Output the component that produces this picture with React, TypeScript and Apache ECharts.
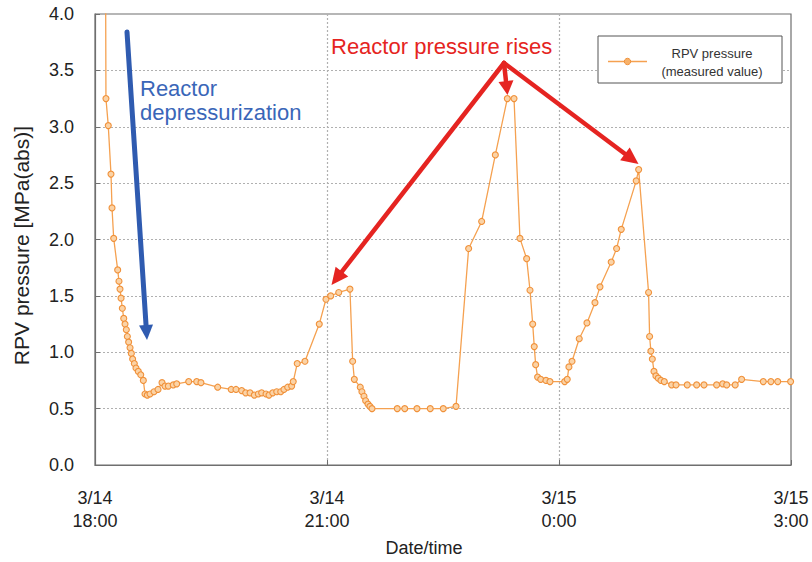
import React, { useEffect, useRef } from "react";
import * as echarts from "echarts";

// minutes after 3/14 18:00
const timeMinutes = [
  7.5, 8.5, 10.3, 12.4, 13.2, 14.5, 17.6, 18.6, 19.4, 20.2, 21.2, 22.3, 23.3, 24.3, 25.1, 26.1, 27.2, 28.2,
  29.2, 30.5, 31.8, 33.6, 35.5, 37.5, 38.8, 40.6, 42.7, 45.8, 48.9, 52.0, 54.3, 56.9, 60.7, 63.4, 72.7,
  78.9, 82.2, 95.2, 105.7, 109.4, 113.8, 116.9, 120.3, 123.6, 126.7, 129.3, 132.7, 135.0, 137.9, 141.0,
  144.1, 146.6, 149.5, 152.6, 153.8, 156.9, 162.9, 174.0, 179.2, 182.9, 189.1, 197.8, 199.9, 201.2,
  205.8, 207.1, 208.7, 210.0, 211.8, 213.3, 214.9, 234.5, 240.3, 249.8, 260.1, 270.2, 280.1, 289.9,
  300.0, 310.6, 319.9, 325.1, 329.7, 334.9, 337.5, 339.6, 340.8, 341.9, 343.4, 345.8, 349.9, 353.0,
  364.4, 366.4, 367.7, 370.1, 375.7, 381.7, 387.9, 391.8, 400.5, 404.7, 408.3, 419.9, 421.8, 429.5,
  430.3, 431.3, 432.4, 433.7, 435.2, 437.0, 439.1, 441.7, 447.4, 450.8, 459.5, 466.8, 472.5, 482.3,
  487.0, 490.1, 496.7, 501.7, 518.5, 524.4, 529.7, 539.7,
];
const rpvPressure = [
  7.0, 3.25, 3.01, 2.58, 2.28, 2.01, 1.73, 1.63, 1.56, 1.48, 1.39, 1.30, 1.25, 1.20, 1.14, 1.09, 1.04, 0.99,
  0.94, 0.90, 0.86, 0.83, 0.80, 0.75, 0.63, 0.62, 0.63, 0.65, 0.67, 0.73, 0.70, 0.70, 0.71, 0.72, 0.74,
  0.74, 0.73, 0.69, 0.67, 0.67, 0.66, 0.64, 0.64, 0.62, 0.63, 0.64, 0.63, 0.62, 0.64, 0.65,
  0.65, 0.67, 0.69, 0.70, 0.74, 0.90, 0.92, 1.25, 1.47, 1.50, 1.53, 1.56, 0.92, 0.76,
  0.69, 0.65, 0.61, 0.57, 0.54, 0.52, 0.50, 0.50, 0.50, 0.50, 0.50, 0.50, 0.52, 1.92,
  2.16, 2.75, 3.25, 3.25, 2.01, 1.83, 1.55, 1.25, 1.05, 0.89, 0.78, 0.76, 0.75, 0.74,
  0.74, 0.76, 0.87, 0.92, 1.12, 1.26, 1.44, 1.58, 1.80, 1.92, 2.09, 2.52, 2.62, 1.53,
  1.14, 1.01, 0.94, 0.83, 0.79, 0.77, 0.75, 0.74, 0.71, 0.71, 0.71, 0.71, 0.71, 0.71,
  0.72, 0.71, 0.71, 0.76, 0.74, 0.74, 0.74, 0.74,
];
const xTickLabels: Record<number, string> = {
  0: "3/14\n18:00",
  180: "3/14\n21:00",
  360: "3/15\n0:00",
  540: "3/15\n3:00",
};

const FONT = "'Liberation Sans', Arial, sans-serif";

function arrow(x1: number, y1: number, x2: number, y2: number, color: string, lw: number, hl: number, hw: number) {
  const dx = x2 - x1;
  const dy = y2 - y1;
  const len = Math.sqrt(dx * dx + dy * dy);
  const ux = dx / len;
  const uy = dy / len;
  const bx = x2 - ux * hl;
  const by = y2 - uy * hl;
  const px = -uy;
  const py = ux;
  return [
    {
      type: "line",
      shape: { x1, y1, x2: bx + ux * 2, y2: by + uy * 2 },
      style: { stroke: color, lineWidth: lw, lineCap: "round" },
      z: 100,
    },
    {
      type: "polygon",
      shape: {
        points: [
          [x2, y2],
          [bx + px * hw, by + py * hw],
          [bx - px * hw, by - py * hw],
        ],
      },
      style: { fill: color },
      z: 100,
    },
  ];
}

export default function App() {
  const ref = useRef<HTMLDivElement>(null);
  useEffect(() => {
    if (!ref.current) return;
    const chart = echarts.init(ref.current, null, { renderer: "svg" });
    const data = timeMinutes.map((t, i) => [t, rpvPressure[i]]);
    const blue = "#2f5bb0";
    const red = "#e52421";
    chart.setOption({
      animation: false,
      backgroundColor: "#ffffff",
      grid: {
        left: 95,
        right: 21,
        top: 14,
        bottom: 96,
        show: true,
        borderColor: "#6f6f6f",
        borderWidth: 1.2,
      },
      xAxis: {
        type: "value",
        min: 0,
        max: 540,
        interval: 180,
        name: "Date/time",
        nameLocation: "middle",
        nameGap: 74,
        nameTextStyle: { fontFamily: FONT, fontSize: 18, color: "#222", padding: [0, 38, 0, 0] },
        axisLine: { show: true, lineStyle: { color: "#6f6f6f", width: 1.2 } },
        axisTick: { show: true, inside: true, length: 5, lineStyle: { color: "#6f6f6f" } },
        axisLabel: {
          margin: 21,
          fontFamily: FONT,
          fontSize: 18,
          lineHeight: 23,
          color: "#222",
          formatter: (v: number) => xTickLabels[v] ?? "",
        },
        splitLine: {
          show: true,
          showMinLine: false,
          showMaxLine: false,
          lineStyle: { color: "#b0b0b0", type: [2, 2], width: 1.2 },
        },
      },
      yAxis: {
        type: "value",
        min: 0,
        max: 4,
        interval: 0.5,
        name: "RPV pressure [MPa(abs)]",
        nameLocation: "middle",
        nameGap: 63,
        nameTextStyle: { fontFamily: FONT, fontSize: 21, color: "#222", padding: [0, 12, 0, 0] },
        axisLine: { show: true, lineStyle: { color: "#6f6f6f", width: 1.2 } },
        axisTick: { show: true, inside: true, length: 5, lineStyle: { color: "#6f6f6f" } },
        axisLabel: {
          margin: 21,
          fontFamily: FONT,
          fontSize: 18,
          color: "#222",
          formatter: (v: number) => v.toFixed(1),
        },
        splitLine: {
          show: true,
          showMinLine: false,
          showMaxLine: false,
          lineStyle: { color: "#b0b0b0", type: [2, 2], width: 1.2 },
        },
      },
      series: [
        {
          name: "RPV pressure (measured value)",
          type: "line",
          data,
          clip: true,
          symbol: "circle",
          symbolSize: 6,
          showAllSymbol: true,
          lineStyle: { color: "#f5a150", width: 1.3 },
          itemStyle: { color: "#fbd3a6", borderColor: "#f0913a", borderWidth: 1.1 },
          z: 3,
        },
      ],
      graphic: [
        // legend
        {
          type: "rect",
          shape: { x: 598, y: 36, width: 184, height: 47 },
          style: { fill: "#ffffff", stroke: "#555", lineWidth: 1 },
          z: 90,
        },
        {
          type: "line",
          shape: { x1: 608, y1: 61.5, x2: 647, y2: 61.5 },
          style: { stroke: "#f5a150", lineWidth: 1.5 },
          z: 91,
        },
        {
          type: "circle",
          shape: { cx: 627.5, cy: 61.5, r: 3.2 },
          style: { fill: "#f7b16a", stroke: "#f0913a", lineWidth: 1 },
          z: 92,
        },
        {
          type: "text",
          style: {
            x: 712,
            y: 53,
            text: "RPV pressure",
            fontFamily: FONT,
            fontSize: 13,
            fill: "#333",
            align: "center",
            verticalAlign: "middle",
          },
          z: 92,
        },
        {
          type: "text",
          style: {
            x: 712,
            y: 71.5,
            text: "(measured value)",
            fontFamily: FONT,
            fontSize: 13,
            fill: "#333",
            align: "center",
            verticalAlign: "middle",
          },
          z: 92,
        },
        // blue annotation
        ...arrow(127, 32, 147, 340, blue, 5, 15, 7),
        {
          type: "text",
          style: {
            x: 140,
            y: 88,
            text: "Reactor",
            fontFamily: FONT,
            fontSize: 22,
            fill: "#3a66b8",
            align: "left",
            verticalAlign: "middle",
          },
          z: 100,
        },
        {
          type: "text",
          style: {
            x: 140,
            y: 112,
            text: "depressurization",
            fontFamily: FONT,
            fontSize: 22,
            fill: "#3a66b8",
            align: "left",
            verticalAlign: "middle",
          },
          z: 100,
        },
        // red annotations
        ...arrow(504, 63, 331.5, 285, red, 4.5, 17, 8),
        ...arrow(504, 63, 507.5, 95, red, 4.5, 14, 7.5),
        ...arrow(504, 63, 638.5, 164, red, 4.5, 17, 8),
        {
          type: "text",
          style: {
            x: 331,
            y: 46,
            text: "Reactor pressure rises",
            fontFamily: FONT,
            fontSize: 22,
            fill: red,
            align: "left",
            verticalAlign: "middle",
          },
          z: 100,
        },
      ],
    });
    return () => chart.dispose();
  }, []);
  return <div ref={ref} style={{ width: 812, height: 562, position: "absolute", left: 0, top: 0 }} />;
}
